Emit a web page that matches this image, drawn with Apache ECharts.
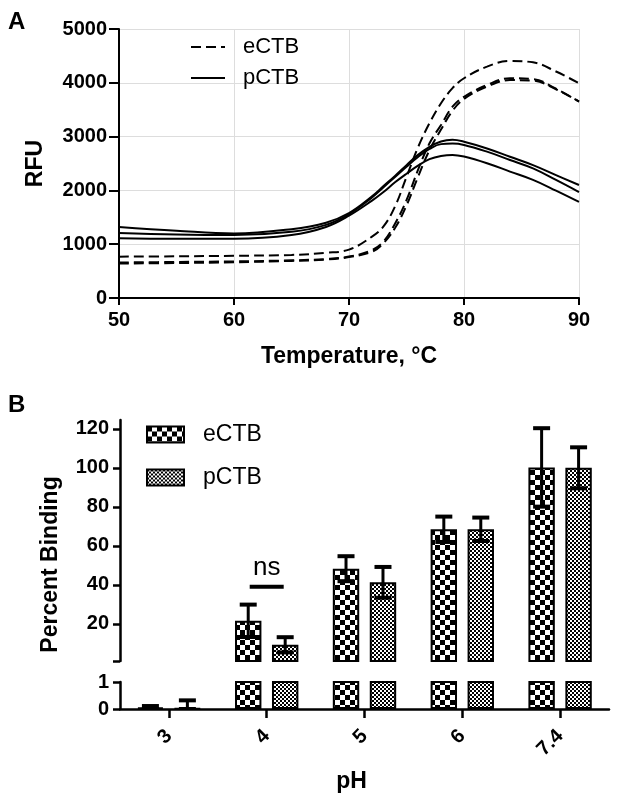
<!DOCTYPE html>
<html><head><meta charset="utf-8">
<script src="https://cdn.jsdelivr.net/npm/echarts@6/dist/echarts.min.js"></script>
<style>html,body{margin:0;padding:0;background:#fff}#c{width:618px;height:799px}</style>
</head><body><div id="c"></div>
<script>
// ---------- Panel A data ----------
const temps = [50,55,60,65,68,70,72,73,74,75,76,77,78,79,80,82,84,86,88,90];
const eCTB1 = [768,775,785,800,840,900,1140,1330,1700,2250,2800,3250,3620,3900,4085,4300,4405,4380,4210,3990];
const eCTB2 = [660,670,680,700,725,770,890,1050,1380,1820,2380,2875,3215,3555,3740,3960,4085,4070,3890,3650];
const eCTB3 = [640,650,665,690,715,760,860,1020,1300,1720,2250,2750,3130,3480,3700,3930,4050,4040,3880,3650];
const pCTB1 = [1320,1250,1200,1280,1400,1580,1890,2080,2270,2470,2660,2810,2910,2940,2905,2780,2625,2470,2285,2100];
const pCTB2 = [1210,1180,1170,1230,1360,1560,1870,2060,2250,2440,2620,2770,2860,2870,2845,2720,2565,2410,2195,1970];
const pCTB3 = [1110,1100,1100,1170,1320,1530,1810,1970,2150,2310,2460,2580,2640,2660,2630,2505,2350,2195,1995,1785];
const xTicksA = [50,60,70,80,90];
const yTicksA = [0,1000,2000,3000,4000,5000];

// ---------- Panel B data ----------
const phCats = ['3','4','5','6','7.4'];
const eMean = [0.05, 21.6, 48.3, 68.5, 100.2];
const eErr  = [0.06, 8.3, 6.4, 6.5, 20.1];
const pMean = [0.02, 9.3, 41.3, 68.5, 100];
const pErr  = [0.3, 3.9, 7.9, 6.0, 10.5];
const upperTicks = [20,40,60,80,100,120];
const lowerTicks = [0,1];
const upperMin = 1, upperMax = 124.5;
const nsCat = 1, nsValue = 39;

const FONT = 'Liberation Sans, Arial, sans-serif';

function checker(cell){
  const c = document.createElement('canvas');
  c.width = cell*2; c.height = cell*2;
  const g = c.getContext('2d');
  g.fillStyle = '#fff'; g.fillRect(0,0,cell*2,cell*2);
  g.fillStyle = '#000';
  g.fillRect(0,0,cell,cell); g.fillRect(cell,cell,cell,cell);
  return c;
}
const ePat = {image: checker(5), repeat: 'repeat'};
const pPat = {image: checker(2), repeat: 'repeat'};

const pairs = arr => temps.map((t,i)=>[t, arr[i]]);
const dashed = {type:[10,5], width:2, color:'#000'};
const solid = {type:'solid', width:2, color:'#000'};
function lineSeries(name, arr, ls){
  return {type:'line', name, data: pairs(arr), xAxisIndex:0, yAxisIndex:0,
    symbol:'none', smooth:0.4, lineStyle: ls, itemStyle:{color:'#000'}, z:3};
}

const BAR_W = 0.27, GAP = 0.108;
function errRender(sign){
  return function(params, api){
    const ci = api.value(0), m = api.value(1), e = api.value(2);
    const band = api.size([1,0])[0];
    const off = sign * band * (BAR_W + GAP) / 2;
    const top = api.coord([ci, m + e]);
    const bot = api.coord([ci, Math.max(m - e, 0)]);
    const x = top[0] + off, hw = 8.5;
    const st = {stroke:'#000', lineWidth:3};
    return {type:'group', children:[
      {type:'line', shape:{x1:x, y1:top[1], x2:x, y2:bot[1]}, style:st},
      {type:'line', shape:{x1:x-hw, y1:top[1], x2:x+hw, y2:top[1]}, style:{stroke:'#000', lineWidth:4}},
      {type:'line', shape:{x1:x-hw, y1:bot[1], x2:x+hw, y2:bot[1]}, style:{stroke:'#000', lineWidth:4}}
    ]};
  };
}
// upper segment: only error bars reaching above the break
function errData(mean, err, upper){
  return mean.map((m,i)=> (upper && m + err[i] <= upperMin) ? [i, '-', '-'] : [i, m, err[i]]);
}

function barSeries(name, data, pat, gi){
  return {type:'bar', name, data, xAxisIndex:gi, yAxisIndex:gi,
    barWidth: (BAR_W*100)+'%', barGap: (GAP/BAR_W*100)+'%',
    itemStyle:{color: pat, borderColor:'#000', borderWidth:2}, z:2};
}
function errSeries(name, mean, err, sign, gi){
  return {type:'custom', name, data: errData(mean, err, gi === 1), xAxisIndex:gi, yAxisIndex:gi,
    renderItem: errRender(sign), clip:true, z:4};
}
const aboveMin = arr => arr.map(v => v > upperMin ? v : '-');

const axLine = {lineStyle:{color:'#000', width:2}};
const lab = {color:'#000', fontFamily:FONT, fontWeight:'bold', fontSize:20};
const nameStyle = {fontFamily:FONT, fontWeight:'bold', fontSize:23, color:'#000'};

const chart = echarts.init(document.getElementById('c'), null, {renderer:'canvas'});
chart.setOption({
  animation:false,
  backgroundColor:'#fff',
  title:[
    {text:'A', left:3, top:5, textStyle:{fontFamily:FONT, fontWeight:'bold', fontSize:24, color:'#000'}},
    {text:'B', left:3, top:388, textStyle:{fontFamily:FONT, fontWeight:'bold', fontSize:24, color:'#000'}}
  ],
  legend:[
    {data:['eCTB','pCTB'], orient:'vertical', left:190, top:36, padding:0, itemWidth:34, itemHeight:14, itemGap:9,
     itemStyle:{opacity:0},
     textStyle:{fontFamily:FONT, fontSize:22, color:'#000', padding:[0,0,0,13]}, selectedMode:false},
    {data:['eCTB bars','pCTB bars'], orient:'vertical', left:146, top:423, padding:0, itemWidth:37, itemHeight:16, itemGap:20,
     icon:'rect', formatter: n => n.split(' ')[0],
     textStyle:{fontFamily:FONT, fontSize:23, color:'#000', padding:[0,0,0,14]}, selectedMode:false}
  ],
  grid:[
    {left:119, right:39, top:29, height:269},
    {left:120, right:9, top:420, height:241},
    {left:120, right:9, top:682, height:27},
    {left:120, right:9, top:420, height:289}
  ],
  xAxis:[
    {type:'value', gridIndex:0, min:50, max:90, interval:10,
     axisLine:axLine, axisTick:{show:true, length:7, lineStyle:{color:'#000', width:2}},
     axisLabel:Object.assign({margin:12}, lab),
     splitLine:{show:true, lineStyle:{color:'#dddddd', width:1}},
     name:'Temperature, \u00B0C', nameLocation:'middle', nameGap:47, nameTextStyle:nameStyle},
    {type:'category', gridIndex:1, data:phCats, show:false},
    {type:'category', gridIndex:2, data:phCats,
     axisLine:{lineStyle:{color:'#000', width:2.5}},
     axisTick:{show:true, alignWithLabel:true, length:9, lineStyle:{color:'#000', width:2.5}},
     axisLabel:Object.assign({rotate:45, margin:24}, lab),
     name:'pH', nameLocation:'middle', nameGap:61,
     nameTextStyle:Object.assign({padding:[0,26,0,0]}, nameStyle)},
    {type:'category', gridIndex:3, data:phCats, show:false}
  ],
  yAxis:[
    {type:'value', gridIndex:0, min:0, max:5000, interval:1000,
     axisLine:{show:true, lineStyle:{color:'#000', width:2}},
     axisTick:{show:true, length:10, lineStyle:{color:'#000', width:2}},
     axisLabel:Object.assign({margin:12, formatter: v => String(v)}, lab),
     splitLine:{show:true, lineStyle:{color:'#dddddd', width:1}},
     name:'RFU', nameLocation:'middle', nameGap:72, nameTextStyle:nameStyle},
    {type:'value', gridIndex:1, min:upperMin, max:upperMax,
     axisLine:{show:true, lineStyle:{color:'#000', width:2.5}},
     axisTick:{show:true, length:7, customValues:[upperMin].concat(upperTicks), lineStyle:{color:'#000', width:2.5}},
     axisLabel:Object.assign({margin:11, customValues:upperTicks}, lab),
     splitLine:{show:false}},
    {type:'value', gridIndex:2, min:0, max:1,
     axisLine:{show:true, lineStyle:{color:'#000', width:2.5}},
     axisTick:{show:true, length:7, customValues:lowerTicks, lineStyle:{color:'#000', width:2.5}},
     axisLabel:Object.assign({margin:11, customValues:lowerTicks}, lab),
     splitLine:{show:false}},
    {type:'value', gridIndex:3, min:0, max:1,
     axisLine:{show:false}, axisTick:{show:false}, axisLabel:{show:false}, splitLine:{show:false},
     name:'Percent Binding', nameLocation:'middle', nameGap:58, nameTextStyle:nameStyle}
  ],
  series:[
    lineSeries('eCTB', eCTB1, dashed),
    lineSeries('eCTB', eCTB2, dashed),
    lineSeries('eCTB', eCTB3, dashed),
    lineSeries('pCTB', pCTB1, solid),
    lineSeries('pCTB', pCTB2, solid),
    lineSeries('pCTB', pCTB3, solid),
    barSeries('eCTB bars', aboveMin(eMean), ePat, 1),
    barSeries('pCTB bars', aboveMin(pMean), pPat, 1),
    barSeries('eCTB bars', eMean, ePat, 2),
    barSeries('pCTB bars', pMean, pPat, 2),
    errSeries('eErrU', eMean, eErr, -1, 1),
    errSeries('pErrU', pMean, pErr, 1, 1),
    errSeries('eErrL', eMean, eErr, -1, 2),
    errSeries('pErrL', pMean, pErr, 1, 2),
    {type:'custom', name:'ns', xAxisIndex:1, yAxisIndex:1, data:[[nsCat, nsValue]], z:5,
     renderItem:function(params, api){
       const p = api.coord([api.value(0), api.value(1)]);
       const hw = 17;
       return {type:'group', children:[
         {type:'line', shape:{x1:p[0]-hw, y1:p[1], x2:p[0]+hw, y2:p[1]}, style:{stroke:'#000', lineWidth:4}},
         {type:'text', x:p[0], y:p[1]-6, style:{text:'ns', fill:'#000', font:'26px '+FONT, textAlign:'center', textVerticalAlign:'bottom'}}
       ]};
     }}
  ]
});
</script></body></html>
